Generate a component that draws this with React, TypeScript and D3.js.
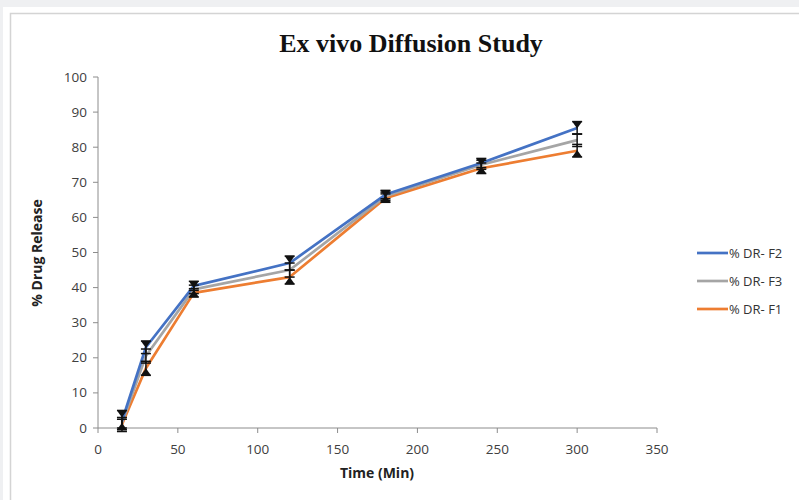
import React from "react";
import * as d3 from "d3";

const times = [15, 30, 60, 120, 180, 240, 300];
const f2Values = [2, 23, 40.5, 47, 66.5, 75.5, 85.5];
const f3Values = [1.5, 20.5, 39.5, 45, 66, 75, 82];
const f1Values = [1, 17, 38.5, 43, 65.5, 74, 79];
const f2Err = [3, 1.8, 1.3, 2, 1.2, 1.3, 1.8];
const f3Err = [1.5, 2, 1.2, 2, 1.2, 1.3, 1.8];
const f1Err = [1.5, 2, 1.2, 2, 1.2, 1.5, 1.8];
const xTicks = [0, 50, 100, 150, 200, 250, 300, 350];
const yTicks = [0, 10, 20, 30, 40, 50, 60, 70, 80, 90, 100];

const series = [
  { name: "% DR- F2", values: f2Values, err: f2Err, color: "#4472c4", marker: "down" },
  { name: "% DR- F3", values: f3Values, err: f3Err, color: "#a5a5a5", marker: "none" },
  { name: "% DR- F1", values: f1Values, err: f1Err, color: "#ed7d31", marker: "up" },
];

export default function App() {
  const W = 799, H = 500;
  const x = d3.scaleLinear().domain([0, 350]).range([98, 657]);
  const y = d3.scaleLinear().domain([0, 100]).range([428, 77]);
  const line = d3.line<number>().x((_, i) => x(times[i])).y((d) => y(d));
  const drawOrder = [series[2], series[1], series[0]];
  const font = "'Open Sans', 'Liberation Sans', sans-serif";

  return (
    <svg width={W} height={H} style={{ position: "absolute", left: 0, top: 0 }}>
      <rect x={0} y={0} width={W} height={H} fill="#eff0f2" />
      <rect x={3} y={7} width={W - 3} height={H - 7} fill="#ffffff" />
      <path d={`M10.5,${H} V13.5 H${W}`} fill="none" stroke="#d4d4d4" strokeWidth={1.5} />
      <text x={411} y={52} textAnchor="middle" fontFamily="'Liberation Serif', 'Times New Roman', serif" fontWeight="bold" fontSize={26} fill="#111">
        Ex vivo Diffusion Study
      </text>
      {/* axes */}
      <line x1={x(0)} x2={x(0)} y1={y(0)} y2={y(100)} stroke="#8c8c8c" strokeWidth={1} />
      <line x1={x(0)} x2={x(350)} y1={y(0)} y2={y(0)} stroke="#8c8c8c" strokeWidth={1} />
      {yTicks.map((t) => (
        <g key={"y" + t}>
          <line x1={x(0) - 5} x2={x(0)} y1={y(t)} y2={y(t)} stroke="#8c8c8c" />
          <text x={x(0) - 11} y={y(t) + 4.5} textAnchor="end" fontFamily={font} fontSize={13.5} fill="#404040">{t}</text>
        </g>
      ))}
      {xTicks.map((t) => (
        <g key={"x" + t}>
          <line x1={x(t)} x2={x(t)} y1={y(0)} y2={y(0) + 5} stroke="#8c8c8c" />
          <text x={x(t)} y={y(0) + 26} textAnchor="middle" fontFamily={font} fontSize={13.5} fill="#404040">{t}</text>
        </g>
      ))}
      <text x={377} y={478} textAnchor="middle" fontFamily={font} fontWeight="bold" fontSize={14} fill="#222">Time (Min)</text>
      <text transform="translate(42,253) rotate(-90)" textAnchor="middle" fontFamily={font} fontWeight="bold" fontSize={14} fill="#222">% Drug Release</text>
      {/* lines */}
      {drawOrder.map((s) => (
        <path key={s.name} d={line(s.values) || ""} fill="none" stroke={s.color} strokeWidth={2.7} strokeLinejoin="round" />
      ))}
      {/* error bars */}
      {drawOrder.map((s) =>
        s.values.map((v, i) => {
          const cx = x(times[i]);
          const yt = y(v + s.err[i]);
          const yb = y(v - s.err[i]);
          return (
            <g key={s.name + i} stroke="#111" strokeWidth={1.5}>
              <line x1={cx} x2={cx} y1={yt} y2={yb} />
              <line x1={cx - 5} x2={cx + 5} y1={yt} y2={yt} />
              <line x1={cx - 5} x2={cx + 5} y1={yb} y2={yb} />
              {s.marker === "down" && (
                <path d={`M${cx - 5},${yt} L${cx + 5},${yt} L${cx},${yt + 7} Z`} fill="#111" stroke="none" />
              )}
              {s.marker === "up" && (
                <path d={`M${cx - 5},${yb} L${cx + 5},${yb} L${cx},${yb - 7} Z`} fill="#111" stroke="none" />
              )}
            </g>
          );
        })
      )}
      {/* legend */}
      {series.map((s, i) => (
        <g key={"lg" + s.name}>
          <line x1={697} x2={728} y1={253 + i * 28} y2={253 + i * 28} stroke={s.color} strokeWidth={2.7} />
          <text x={729} y={257.5 + i * 28} fontFamily={font} fontSize={13} fill="#333">{s.name}</text>
        </g>
      ))}
    </svg>
  );
}
